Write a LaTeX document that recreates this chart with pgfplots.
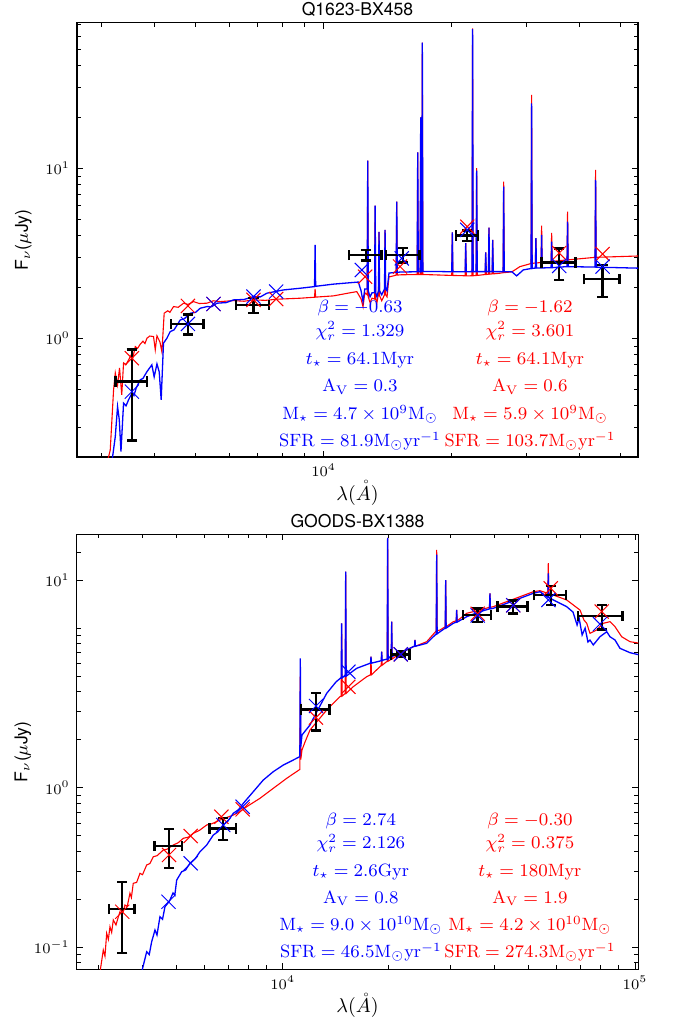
\RequirePackage{fix-cm}
\documentclass[border=0pt]{standalone}
\usepackage{fontspec}
\setsansfont{TeX Gyre Heros}
\usepackage{pgfplots}
\pgfplotsset{compat=1.18}

\pgfplotsset{
  sedaxis/.style={
    scale only axis, anchor=north west,
    tick align=inside, major tick length=3pt, minor tick length=2pt,
    tick style={black, line width=0.45pt},
    minor tick style={black, line width=0.45pt},
    axis line style={line width=0.6pt},
    tick label style={font=\fontsize{7.3}{8.5}\selectfont},
    every axis title shift=0pt,
    title style={at={(axis description cs:0.5,1.0157)}, anchor=base, inner sep=0pt, font=\sffamily\fontsize{8.8}{10}\selectfont},
    xlabel style={at={(axis description cs:0.5,-0.083)}, anchor=center, inner sep=0pt, font=\fontsize{10}{12}\selectfont},
    ylabel style={at={(axis description cs:-0.0957,0.5)}, anchor=center, inner sep=0pt, font=\fontsize{8.8}{10}\selectfont},
    xlabel={$\lambda(\mathring{A})$},
    ylabel={\textsf{F}$_{\nu}$\textsf{(}$\mu$\textsf{Jy)}},
  },
  sedr/.style={line width=0.55pt, mark=none, red},
  sedb/.style={line width=0.65pt, mark=none, blue},
  mx/.style={only marks, mark=x, mark size=5pt, line width=0.5pt},
  obs/.style={draw=none, mark=none,
    error bars/.cd, x dir=both, x explicit, y dir=both, y explicit,
    error mark=-,
    error bar style={draw=black, line width=1.2pt},
    error mark options={draw=black, rotate=90, line width=1.2pt, mark size=2.6pt}},
}
\tikzset{ann/.style={anchor=base, inner sep=0pt, font=\fontsize{8.9}{11}\selectfont}}

\begin{document}
\begin{tikzpicture}
\useasboundingbox (0,0) rectangle (339pt,-512pt);

% ---------------- top panel ----------------
\begin{loglogaxis}[sedaxis,
  at={(38.5pt,-11.35pt)}, width=280.5pt, height=217.15pt,
  xmin=2630, xmax=54900, ymin=0.2, ymax=71.8,
  xtick={10000}, xticklabels={$10^{4}$},
  minor xtick={3000,4000,5000,6000,7000,8000,9000,20000,30000,40000,50000},
  ytick={1,10}, yticklabels={$10^{0}$,$10^{1}$},
  minor ytick={0.3,0.4,0.5,0.6,0.7,0.8,0.9,2,3,4,5,6,7,8,9,20,30,40,50,60,70},
  title={Q1623-BX458},
]
\addplot[sedr] coordinates {
(3104,0.19)(3149,0.220)(3206,0.497)(3236,0.625)(3276,0.531)(3311,0.669)(3351,0.464)(3384,0.716)(3430,0.70)(3477,0.745)(3528,0.798)(3560,0.77)(3606,0.893)(3650,0.87)(3704,0.922)(3760,0.96)(3800,0.93)(3842,1.0)(3900,1.03)(3981,1.022)(4018,0.854)(4055,1.032)(4121,0.951)(4165,0.831)(4217,1.403)(4300,1.45)(4350,1.42)(4436,1.535)(4550,1.52)(4684,1.607)(4800,1.58)(4943,1.642)(5100,1.60)(5318,1.607)(5500,1.66)(5713,1.642)(6138,1.664)(6500,1.65)(6839,1.680)(7300,1.67)(7762,1.696)(8806,1.719)(9521,1.742)(9550,1.95)(9579,1.745)(10545,1.774)(11540,1.85)(11970,1.88)(12250,1.70)(12380,1.53)(12500,1.85)(12662,1.80)(12700,11.1)(12738,1.75)(12860,1.62)(13000,1.72)(13180,1.70)(13220,6.03)(13260,1.70)(13350,1.62)(13435,1.774)(13460,1.78)(13500,4.22)(13540,1.78)(13700,1.66)(13908,1.80)(13950,4.34)(13992,1.80)(14100,1.75)(14250,2.30)(14334,2.30)(14815,2.35)(14860,6.36)(14905,2.35)(15130,2.36)(16600,2.37)(16650,12.4)(16700,2.37)(16869,2.37)(16920,19.9)(16971,2.37)(17019,2.37)(17070,54.8)(17121,2.37)(18115,2.36)(20020,2.34)(20080,4.2)(20140,2.34)(21525,2.33)(21590,3.62)(21655,2.33)(21710,2.326)(22343,2.33)(22410,66.5)(22477,2.33)(22841,2.34)(22910,10.0)(22979,2.34)(23988,2.37)(24060,3.2)(24132,2.37)(24417,2.38)(24490,4.47)(24563,2.38)(24915,2.39)(24990,3.79)(25065,2.39)(25990,2.412)(26440,2.43)(26520,8.34)(26600,2.43)(27730,2.457)(28960,2.637)(30757,2.75)(30850,27.0)(30943,2.75)(31120,2.761)(31485,2.77)(31580,3.88)(31675,2.77)(32472,2.79)(32570,4.60)(32668,2.79)(34287,2.83)(34390,4.16)(34493,2.83)(37300,2.888)(37378,2.89)(37490,5.55)(37602,2.89)(43499,2.99)(43630,9.77)(43761,2.99)(44670,2.996)(56000,3.05)
};
\addplot[sedb] coordinates {
(3180,0.19)(3236,0.264)(3276,0.396)(3307,0.331)(3337,0.215)(3384,0.415)(3430,0.40)(3477,0.434)(3542,0.475)(3580,0.46)(3625,0.510)(3704,0.569)(3760,0.58)(3842,0.636)(3945,0.697)(3995,0.592)(4055,0.706)(4105,0.634)(4149,0.434)(4201,0.935)(4280,1.0)(4356,1.093)(4450,1.12)(4601,1.281)(4700,1.30)(4857,1.403)(5000,1.42)(5126,1.501)(5318,1.535)(5450,1.53)(5611,1.607)(5900,1.62)(6138,1.680)(6500,1.69)(6839,1.757)(7100,1.75)(7355,1.840)(8043,1.923)(8806,1.968)(9521,2.012)(9550,3.54)(9579,2.02)(10545,2.08)(11540,2.12)(12070,2.14)(12250,1.90)(12380,1.64)(12500,1.95)(12662,1.95)(12700,11.1)(12738,1.90)(12860,1.75)(13000,1.85)(13180,1.85)(13220,6.03)(13260,1.85)(13350,1.75)(13435,1.87)(13460,1.90)(13500,4.22)(13540,1.90)(13700,1.80)(13908,1.95)(13950,4.34)(13992,1.95)(14100,1.90)(14250,2.42)(14334,2.42)(14815,2.44)(14860,6.36)(14905,2.44)(15130,2.45)(16600,2.46)(16650,12.4)(16700,2.46)(16869,2.46)(16920,19.9)(16971,2.46)(17019,2.47)(17070,54.8)(17121,2.47)(18115,2.47)(20020,2.46)(20080,4.20)(20140,2.46)(21525,2.46)(21590,3.62)(21655,2.46)(22343,2.465)(22410,65.9)(22477,2.465)(22841,2.465)(22910,9.68)(22979,2.465)(23988,2.465)(24060,3.2)(24132,2.465)(24417,2.465)(24490,4.47)(24563,2.465)(24915,2.465)(24990,3.79)(25065,2.465)(25990,2.465)(26440,2.46)(26520,7.79)(26600,2.46)(27730,2.457)(28450,2.326)(29490,2.522)(30757,2.57)(30850,24.1)(30943,2.57)(31120,2.581)(31485,2.585)(31580,3.88)(31675,2.585)(32472,2.59)(32570,4.05)(32668,2.59)(34287,2.6)(34390,3.70)(34493,2.6)(37300,2.637)(37378,2.637)(37490,4.85)(37602,2.637)(43499,2.62)(43630,8.54)(43761,2.62)(44670,2.616)(56000,2.58)
};
\addplot[mx, red] coordinates {(3540,0.763)(4795,1.549)(5508,1.59)(6839,1.68)(7735,1.70)(12520,2.30)(15130,2.64)(21774,4.53)(35826,3.17)(45310,3.13)};
\addplot[mx, blue] coordinates {(3540,0.485)(4795,1.214)(5508,1.59)(6839,1.757)(7735,1.88)(12300,2.52)(15270,2.95)(21774,4.34)(35826,2.66)(45310,2.64)};
\addplot[obs] coordinates {
(3540,0.555) +- (300,0.305)
(4795,1.214) +- (420,0.163)
(6839,1.570) +- (610,0.16)
(12585,3.09) +- (1100,0.22)
(15398,3.09) +- (1400,0.3)
(21774,4.013) +- (1280,0.29)
(35826,2.785) +- (3300,0.58)
(45310,2.223) +- (4400,0.47)
};
\node[blue, ann] at (rel axis cs:0.5045,0.3323) {$\beta=-0.63$};
\node[blue, ann] at (rel axis cs:0.5045,0.2786) {$\chi^2_r=1.329$};
\node[blue, ann] at (rel axis cs:0.5045,0.2141) {$t_\star=64.1\mathrm{Myr}$};
\node[blue, ann] at (rel axis cs:0.5045,0.1504) {$\mathrm{A_V}=0.3$};
\node[blue, ann] at (rel axis cs:0.5045,0.0868) {$\mathrm{M_\star}=4.7\times10^{9}\mathrm{M_\odot}$};
\node[blue, ann] at (rel axis cs:0.5045,0.0237) {$\mathrm{SFR}=81.9\mathrm{M_\odot yr^{-1}}$};
\node[red, ann] at (rel axis cs:0.8075,0.3323) {$\beta=-1.62$};
\node[red, ann] at (rel axis cs:0.8075,0.2786) {$\chi^2_r=3.601$};
\node[red, ann] at (rel axis cs:0.8075,0.2141) {$t_\star=64.1\mathrm{Myr}$};
\node[red, ann] at (rel axis cs:0.8075,0.1504) {$\mathrm{A_V}=0.6$};
\node[red, ann] at (rel axis cs:0.8075,0.0868) {$\mathrm{M_\star}=5.9\times10^{9}\mathrm{M_\odot}$};
\node[red, ann] at (rel axis cs:0.8075,0.0237) {$\mathrm{SFR}=103.7\mathrm{M_\odot yr^{-1}}$};
\end{loglogaxis}

% ---------------- bottom panel ----------------
\begin{loglogaxis}[sedaxis,
  at={(38.35pt,-267.15pt)}, width=280.8pt, height=217.5pt,
  xmin=2602, xmax=102200, ymin=0.0728, ymax=38.7,
  xtick={10000,100000}, xticklabels={$10^{4}$,$10^{5}$},
  minor xtick={3000,4000,5000,6000,7000,8000,9000,20000,30000,40000,50000,60000,70000,80000,90000},
  ytick={0.1,1,20}, yticklabels={$10^{-1}$,$10^{0}$,$10^{1}$},
  minor ytick={0.08,0.09,0.2,0.3,0.4,0.5,0.6,0.7,0.8,0.9,2,3,4,5,6,7,8,9,10,30},
  title={GOODS-BX1388},
]
\addplot[sedr] coordinates {
(3030,0.07)(3096,0.0962)(3130,0.088)(3165,0.1224)(3200,0.112)(3234,0.1346)(3270,0.124)(3305,0.1483)(3364,0.138)(3400,0.150)(3452,0.167)(3500,0.158)(3567,0.184)(3620,0.180)(3685,0.218)(3720,0.205)(3766,0.2518)(3850,0.255)(3936,0.2909)(4000,0.285)(4111,0.328)(4200,0.335)(4293,0.3695)(4400,0.375)(4583,0.407)(4700,0.412)(4892,0.4375)(5050,0.452)(5223,0.482)(5400,0.49)(5573,0.518)(5800,0.54)(6086,0.584)(6300,0.595)(6637,0.627)(7242,0.674)(7500,0.70)(7903,0.760)(8619,0.858)(9404,0.991)(10265,1.145)(11124,1.291)(11186,1.30)(11220,5.0)(11254,1.5)(11344,1.722)(11570,1.933)(11953,2.298)(13333,3.068)(14541,3.717)(14656,3.75)(14700,10.72)(14744,3.75)(15050,3.9)(15095,22.56)(15140,3.9)(15860,4.294)(17315,4.961)(17757,5.1)(17810,6.62)(17863,5.1)(18890,5.73)(19043,5.85)(19100,7.11)(19157,5.85)(19800,6.2)(19860,36.8)(19920,6.2)(20167,6.31)(20329,6.4)(20390,10.97)(20451,6.4)(21528,6.95)(23480,7.647)(23669,7.7)(23740,8.42)(23811,7.7)(25630,8.22)(27278,9.6)(27360,30.9)(27442,9.6)(27962,9.73)(28933,10.2)(29020,20.0)(29107,10.2)(30500,10.97)(31086,11.1)(31180,13.0)(31274,11.1)(33290,12.38)(36310,12.98)(38644,13.5)(38760,16.5)(38876,13.5)(39600,13.62)(43230,14.64)(47160,15.73)(51440,16.9)(53750,17.16)(56580,16.5)(56750,25.5)(56920,16.5)(58640,16.12)(64000,15.0)(69820,12.98)(71640,11.24)(72950,10.72)(74520,9.28)(77850,9.73)(81300,10.72)(84940,10.97)(87760,10.2)(91670,8.83)(96780,8.22)(103300,8.03)
};
\addplot[sedb] coordinates {
(3979,0.07)(4111,0.0938)(4180,0.090)(4247,0.1084)(4340,0.1283)(4397,0.1194)(4484,0.1555)(4560,0.150)(4633,0.1796)(4725,0.1895)(4786,0.1978)(4883,0.219)(4940,0.212)(5002,0.264)(5169,0.2977)(5300,0.305)(5455,0.336)(5650,0.36)(5823,0.397)(6086,0.4375)(6353,0.5052)(6550,0.53)(6781,0.5837)(7000,0.62)(7242,0.691)(7500,0.73)(7730,0.798)(8251,0.944)(8808,1.117)(9404,1.26)(10039,1.387)(10717,1.491)(11124,1.557)(11186,1.56)(11220,6.47)(11254,1.8)(11344,2.139)(11953,2.472)(12490,2.981)(13333,3.904)(14166,4.597)(14656,4.9)(14700,10.72)(14744,4.9)(14859,4.961)(15050,5.0)(15095,22.56)(15140,5.0)(16218,5.598)(17693,6.017)(17757,6.03)(17810,6.62)(17863,6.03)(18890,6.22)(19043,6.25)(19100,7.11)(19157,6.25)(19300,6.31)(19800,6.4)(19860,36.8)(19920,6.4)(20167,6.62)(20329,6.65)(20390,10.97)(20451,6.65)(21528,6.95)(23480,7.647)(23669,7.7)(23740,8.42)(23811,7.7)(25630,8.03)(27278,9.2)(27360,28.9)(27442,9.2)(27962,9.49)(28933,10.0)(29020,20.0)(29107,10.0)(30500,10.72)(31086,10.9)(31180,13.0)(31274,10.9)(33290,11.79)(36310,12.67)(38644,13.2)(38760,16.5)(38876,13.2)(39600,13.3)(43230,14.3)(47160,15.37)(51440,16.52)(53750,16.9)(56580,15.6)(56750,22.0)(56920,15.6)(58640,15.0)(64000,13.62)(66700,12.6)(68500,10.46)(69400,11.57)(70800,9.05)(72200,10.0)(73550,8.18)(74520,8.42)(76140,7.84)(79560,8.83)(83140,9.49)(84940,8.83)(87760,8.42)(90670,7.47)(96780,7.015)(103300,6.78)
};
\addplot[mx, red] coordinates {(3504,0.167)(4757,0.379)(5480,0.498)(6700,0.658)(7698,0.732)(12430,2.75)(15360,4.29)(21630,6.85)(35770,12.3)(45140,13.9)(57650,17.75)(80460,12.7)};
\addplot[mx, blue] coordinates {(4740,0.193)(5480,0.336)(6781,0.584)(7698,0.760)(12430,3.25)(15360,5.33)(21630,6.85)(35770,12.0)(45140,13.9)(56800,15.0)(79560,10.6)};
\addplot[obs] coordinates {
(3504,0.1738) +- (295,0.082)
(4757,0.431) +- (430,0.118)
(6781,0.5566) +- (590,0.088)
(12430,3.099) +- (1150,0.82)
(21630,6.852) +- (1300,0.27)
(35770,12.08) +- (3300,1.2)
(45140,13.62) +- (4400,1.3)
(57650,16.12) +- (6000,2.2)
(80460,11.9) +- (11600,2.1)
};
\node[blue, ann] at (rel axis cs:0.506,0.3317) {$\beta=2.74$};
\node[blue, ann] at (rel axis cs:0.506,0.2782) {$\chi^2_r=2.126$};
\node[blue, ann] at (rel axis cs:0.506,0.2145) {$t_\star=2.6\mathrm{Gyr}$};
\node[blue, ann] at (rel axis cs:0.506,0.1517) {$\mathrm{A_V}=0.8$};
\node[blue, ann] at (rel axis cs:0.506,0.0887) {$\mathrm{M_\star}=9.0\times10^{10}\mathrm{M_\odot}$};
\node[blue, ann] at (rel axis cs:0.506,0.0276) {$\mathrm{SFR}=46.5\mathrm{M_\odot yr^{-1}}$};
\node[red, ann] at (rel axis cs:0.807,0.3317) {$\beta=-0.30$};
\node[red, ann] at (rel axis cs:0.807,0.2782) {$\chi^2_r=0.375$};
\node[red, ann] at (rel axis cs:0.807,0.2145) {$t_\star=180\mathrm{Myr}$};
\node[red, ann] at (rel axis cs:0.807,0.1517) {$\mathrm{A_V}=1.9$};
\node[red, ann] at (rel axis cs:0.807,0.0887) {$\mathrm{M_\star}=4.2\times10^{10}\mathrm{M_\odot}$};
\node[red, ann] at (rel axis cs:0.807,0.0276) {$\mathrm{SFR}=274.3\mathrm{M_\odot yr^{-1}}$};
\end{loglogaxis}
\end{tikzpicture}
\end{document}
